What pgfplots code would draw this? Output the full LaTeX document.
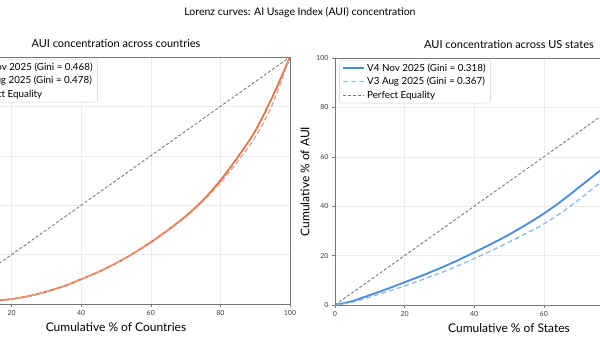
\documentclass[border=0pt]{standalone}
\usepackage{pgfplots}
\pgfplotsset{compat=1.18}
\usepackage{fontspec}
\setmainfont{Lato}
\definecolor{axc}{HTML}{777777}
\definecolor{gridc}{HTML}{EBEBEB}
\definecolor{legc}{HTML}{D0D0D0}
\definecolor{orgA}{HTML}{D9774F}
\definecolor{orgB}{HTML}{EBA083}
\definecolor{bluA}{HTML}{4A8AD6}
\definecolor{bluB}{HTML}{8DBAE8}
\definecolor{eqc}{HTML}{7A7A7A}
\pgfplotsset{lz/.style={
  scale only axis, width=348pt, height=247pt,
  xmin=0, xmax=100, ymin=0, ymax=100,
  xtick={0,20,...,100}, ytick={0,20,...,100},
  grid=major, major grid style={draw=gridc, line width=0.6pt},
  axis line style={draw=axc, line width=0.8pt},
  tick style={draw=axc, line width=0.6pt}, tick align=outside, major tick length=3pt,
  xtick pos=bottom, ytick pos=left,
  every tick label/.append style={font=\fontsize{7}{8}\selectfont, text=black!75},
  /pgf/number format/assume math mode=true,
  label style={font=\fontsize{12}{14}\selectfont},
  title style={font=\fontsize{11}{13}\selectfont},
  legend style={at={(0.012,0.992)}, anchor=north west, draw=legc, fill=white, fill opacity=0.9, text opacity=1,
    rounded corners=2pt, font=\fontsize{9.8}{11.5}\selectfont, row sep=0.5pt, inner xsep=3pt, inner ysep=1.5pt,
    cells={anchor=west}},
  legend image code/.code={\draw[##1] (0pt,0pt) -- (21pt,0pt);},
}}
\begin{document}
\begin{tikzpicture}[x=1pt,y=1pt]
\node[font=\fontsize{10.5}{12}\selectfont] at (300,-12) {Lorenz curves: AI Usage Index (AUI) concentration};
\begin{axis}[lz, at={(-58pt,-304pt)}, anchor=south west,
  title={AUI concentration across countries},
  xlabel={Cumulative \% of Countries}, ylabel={Cumulative \% of AUI}]
\addplot[orgA, line width=1.8pt, smooth, tension=0.5] coordinates {(0,0) (5,0.3) (10,0.8) (15,1.3) (20,2) (25,3.2) (30,5) (35,7.2) (40,10) (45,13) (50,16.5) (55,20.5) (60,25) (65,30) (70,35.5) (75,42) (80,50) (85,59.5) (90,70) (95,84) (100,100)};
\addlegendentry{V4 Nov 2025 (Gini = 0.468)}
\addplot[orgB, line width=1.3pt, dash pattern=on 5pt off 2.5pt, smooth, tension=0.5] coordinates {(0,0) (5,0.3) (10,0.8) (15,1.3) (20,2) (25,3.2) (30,5) (35,7.2) (40,10) (45,13) (50,16.5) (55,20.4) (60,24.8) (65,29.7) (70,35.1) (75,41.5) (80,49) (85,57.8) (90,67.5) (95,81) (100,100)};
\addlegendentry{V3 Aug 2025 (Gini = 0.478)}
\addplot[eqc, line width=0.9pt, dash pattern=on 3pt off 2pt] coordinates {(0,0) (100,100)};
\addlegendentry{Perfect Equality}
\end{axis}
\begin{axis}[lz, at={(335pt,-305pt)}, anchor=south west,
  title={AUI concentration across US states},
  xlabel={Cumulative \% of States}, ylabel={Cumulative \% of AUI}]
\addplot[bluA, line width=1.8pt, smooth, tension=0.5] coordinates {(0,0) (5,1.6) (10,4) (15,6.5) (20,9.2) (25,11.9) (30,14.8) (35,17.9) (40,21.3) (45,24.8) (50,28.5) (55,32.6) (60,37) (65,42) (70,47.5) (75,53.1) (80,59) (85,66) (90,74) (95,84) (100,100)};
\addlegendentry{V4 Nov 2025 (Gini = 0.318)}
\addplot[bluB, line width=1.3pt, dash pattern=on 5pt off 3pt, smooth, tension=0.5] coordinates {(0,0) (5,1.1) (10,3.2) (15,5.4) (20,7.7) (25,10.2) (30,12.8) (35,15.7) (40,18.8) (45,22) (50,25.5) (55,29) (60,32.8) (65,37.4) (70,42.5) (75,48.2) (80,54) (85,61) (90,69) (95,80) (100,100)};
\addlegendentry{V3 Aug 2025 (Gini = 0.367)}
\addplot[eqc, line width=0.9pt, dash pattern=on 3pt off 2pt] coordinates {(0,0) (100,100)};
\addlegendentry{Perfect Equality}
\end{axis}
\pgfresetboundingbox
\useasboundingbox (0,0) rectangle (600,-337);
\end{tikzpicture}
\end{document}
